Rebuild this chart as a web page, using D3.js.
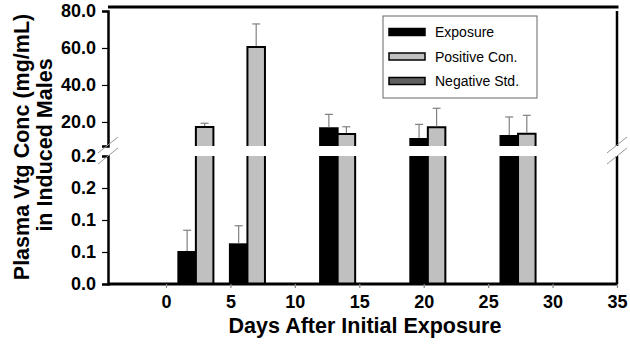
<!DOCTYPE html>
<html>
<head>
<meta charset="utf-8">
<script src="https://cdn.jsdelivr.net/npm/d3@7"></script>
<style>
  body { margin: 0; background: #fff; }
  svg { display: block; }
  text { font-family: "Liberation Sans", Arial, sans-serif; }
</style>
</head>
<body>
<div class="graph"></div>
<script>
// chart values
var days = [3, 7, 14, 21, 28];
var seriesNames = ["Exposure", "Positive Con.", "Negative Std."];
var exposure = [0.050, 0.062, 16.6, 10.8, 12.4];
var exposureErr = [0.034, 0.029, 7.5, 7.9, 10.3];
var positive = [17.3, 60.5, 13.5, 17.1, 13.6];
var positiveErr = [2.0, 12.5, 3.9, 10.3, 10.0];
var negative = [0, 0, 0, 0, 0];
var negativeErr = [0, 0, 0, 0, 0];
var xTicks = [0, 5, 10, 15, 20, 25, 30, 35];
var lowTicks = [0, 0.05, 0.1, 0.15, 0.2];
var lowTickLabels = ["0.0", "0.1", "0.1", "0.2", "0.2"];
var highTicks = [20, 40, 60, 80];
var highTickLabels = ["20.0", "40.0", "60.0", "80.0"];

var colors = ["#000000", "#c0c0c0", "#606060"];

var W = 630, H = 345;
var left = 108, right = 617, bottom = 284;

var svg = d3.select(".graph").append("svg")
    .attr("width", W)
    .attr("height", H);

var x = d3.scaleLinear().domain([-4.5, 35]).range([left, right]);
var sub = d3.scaleBand().domain(seriesNames).range([-2.04, 2.04]);

// broken y axis: lower part 0..0.2, upper part 7..80
var lowMax = 0.2, highMin = 7;
var yLow = d3.scaleLinear().domain([0, lowMax]).range([bottom, 156]);
var yHigh = d3.scaleLinear().domain([highMin, 80]).range([146, 11]);
function yb(v) { return v <= lowMax ? yLow(v) : yHigh(Math.max(v, highMin)); }

var data = [];
var vals = [exposure, positive, negative];
var errs = [exposureErr, positiveErr, negativeErr];
days.forEach(function (d, i) {
    seriesNames.forEach(function (s, j) {
        data.push({ day: d, series: s, idx: j, value: vals[j][i], err: errs[j][i] });
    });
});

var bw = x(sub.bandwidth()) - x(0);
function bx(d) { return x(d.day + sub(d.series)); }

// bars, split across the break
var bars = svg.append("g");
data.filter(function (d) { return d.value > 0; }).forEach(function (d) {
    var x0 = bx(d), x1 = x0 + bw;
    if (d.value <= lowMax) {
        bars.append("rect")
            .attr("x", x0).attr("y", yLow(d.value))
            .attr("width", bw).attr("height", yLow(0) - yLow(d.value))
            .attr("fill", colors[d.idx])
            .attr("stroke", "#000").attr("stroke-width", 2);
    } else {
        var lt = yLow(lowMax), lb = yLow(0);
        var ut = yHigh(d.value), ub = yHigh(highMin);
        bars.append("rect")
            .attr("x", x0).attr("y", lt).attr("width", bw).attr("height", lb - lt)
            .attr("fill", colors[d.idx]);
        bars.append("path")
            .attr("d", "M" + x0 + "," + lt + "V" + lb + "H" + x1 + "V" + lt)
            .attr("fill", "none").attr("stroke", "#000").attr("stroke-width", 2);
        bars.append("rect")
            .attr("x", x0).attr("y", ut).attr("width", bw).attr("height", ub - ut)
            .attr("fill", colors[d.idx]);
        bars.append("path")
            .attr("d", "M" + x0 + "," + ub + "V" + ut + "H" + x1 + "V" + ub)
            .attr("fill", "none").attr("stroke", "#000").attr("stroke-width", 2);
    }
});

// error bars (upper only)
var eb = svg.append("g").attr("stroke", "#808080").attr("stroke-width", 1.2);
data.filter(function (d) { return d.value > 0; }).forEach(function (d) {
    var cx = bx(d) + bw / 2;
    var top = yb(d.value + d.err);
    eb.append("line").attr("x1", cx).attr("x2", cx)
        .attr("y1", yb(d.value) - 1).attr("y2", top);
    eb.append("line").attr("x1", cx - 4).attr("x2", cx + 4)
        .attr("y1", top).attr("y2", top);
});

// axes
function styleAxis(g) {
    g.selectAll(".domain").attr("stroke", "#000").attr("stroke-width", 2.5);
    g.selectAll(".tick line").attr("stroke", "#000").attr("stroke-width", 1.2);
    g.selectAll(".tick text")
        .attr("fill", "#000")
        .style("font-weight", "bold");
}

var gLow = svg.append("g")
    .attr("transform", "translate(" + left + ",0)")
    .call(d3.axisLeft(yLow).tickValues(lowTicks).tickSizeOuter(0).tickSize(6).tickPadding(6)
        .tickFormat(function (d, i) { return lowTickLabels[i]; }));
gLow.selectAll(".tick text").style("font-size", "18px");
styleAxis(gLow);

var gHigh = svg.append("g")
    .attr("transform", "translate(" + left + ",0)")
    .call(d3.axisLeft(yHigh).tickValues(highTicks).tickSizeOuter(0).tickSize(6).tickPadding(6)
        .tickFormat(function (d, i) { return highTickLabels[i]; }));
gHigh.selectAll(".tick text").style("font-size", "18px");
styleAxis(gHigh);

// right side axis pieces
svg.append("line").attr("x1", right).attr("x2", right)
    .attr("y1", yHigh(80)).attr("y2", yHigh(highMin))
    .attr("stroke", "#000").attr("stroke-width", 2.5);
svg.append("line").attr("x1", right).attr("x2", right)
    .attr("y1", yLow(lowMax)).attr("y2", yLow(0))
    .attr("stroke", "#000").attr("stroke-width", 2.5);

// top border
svg.append("line").attr("x1", left).attr("x2", right + 1.5)
    .attr("y1", 7).attr("y2", 7)
    .attr("stroke", "#000").attr("stroke-width", 3);

var gx = svg.append("g")
    .attr("transform", "translate(0," + bottom + ")")
    .call(d3.axisBottom(x).tickValues(xTicks).tickSizeOuter(0).tickSize(4).tickPadding(7));
gx.selectAll(".tick text").style("font-size", "18px");
gx.select(".domain").attr("d", "M" + left + ",0H" + right);
styleAxis(gx);
gx.selectAll(".domain").attr("stroke-width", 3);
gx.selectAll(".tick line").attr("stroke", "#888");

// break marks
[left, right].forEach(function (ax) {
    [145, 156].forEach(function (cy) {
        svg.append("line")
            .attr("x1", ax - 10).attr("y1", cy + 8)
            .attr("x2", ax + 10).attr("y2", cy - 8)
            .attr("stroke", "#999").attr("stroke-width", 1);
    });
});

// titles
svg.append("text")
    .attr("x", 365).attr("y", 333)
    .attr("text-anchor", "middle")
    .style("font-size", "21.5px").style("font-weight", "bold")
    .text("Days After Initial Exposure");

var yt = svg.append("g").attr("transform", "translate(0,147) rotate(-90)");
yt.append("text")
    .attr("x", 0).attr("y", 29)
    .attr("text-anchor", "middle")
    .style("font-size", "21.5px").style("font-weight", "bold")
    .text("Plasma Vtg Conc (mg/mL)");
yt.append("text")
    .attr("x", 2).attr("y", 52)
    .attr("text-anchor", "middle")
    .style("font-size", "21.5px").style("font-weight", "bold")
    .text("in Induced Males");

// legend
var lg = svg.append("g");
lg.append("rect").attr("x", 383).attr("y", 16).attr("width", 154).attr("height", 82)
    .attr("fill", "#fff").attr("stroke", "#666").attr("stroke-width", 1);
seriesNames.forEach(function (s, i) {
    var yy = 32 + i * 24.5;
    lg.append("rect").attr("x", 389).attr("y", yy - 3.5).attr("width", 36).attr("height", 7)
        .attr("fill", colors[i]).attr("stroke", "#000").attr("stroke-width", 1.5);
    lg.append("text").attr("x", 435).attr("y", yy + 5)
        .style("font-size", "14px")
        .text(s);
});
</script>
</body>
</html>
